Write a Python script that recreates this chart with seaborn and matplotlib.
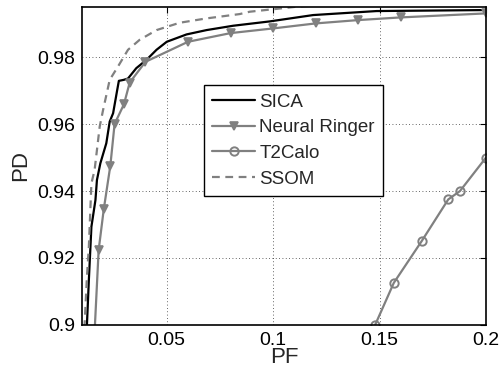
import matplotlib
matplotlib.use("Agg")
import matplotlib.pyplot as plt
import seaborn as sns
import pandas as pd

sica_pf = [0.0120, 0.0125, 0.0134, 0.0146, 0.0165, 0.0172, 0.0188, 0.0216, 0.0232, 0.0248,
           0.0266, 0.0275, 0.0298, 0.0318, 0.0357, 0.0405, 0.0452, 0.0500, 0.0593, 0.0687,
           0.0812, 0.0984, 0.1188, 0.1486, 0.2000]
sica_pd = [0.8950, 0.9000, 0.9133, 0.9293, 0.9373, 0.9433, 0.9483, 0.9543, 0.9608, 0.9633,
           0.9698, 0.9730, 0.9733, 0.9737, 0.9768, 0.9793, 0.9823, 0.9847, 0.9869, 0.9882,
           0.9895, 0.9908, 0.9927, 0.9939, 0.9942]

nr_pf = [0.0155, 0.0180, 0.0204, 0.0235, 0.0255, 0.0299, 0.0326, 0.0400, 0.0600, 0.0800,
         0.1000, 0.1200, 0.1400, 0.1600, 0.2000]
nr_pd = [0.8900, 0.9223, 0.9345, 0.9476, 0.9601, 0.9660, 0.9725, 0.9787, 0.9847, 0.9873,
         0.9887, 0.9902, 0.9912, 0.9920, 0.9932]

t2_pf = [0.1480, 0.1567, 0.1698, 0.1823, 0.1878, 0.2000]
t2_pd = [0.9000, 0.9125, 0.9250, 0.9375, 0.9400, 0.9500]

ssom_pf = [0.0110, 0.0114, 0.0125, 0.0134, 0.0146, 0.0161, 0.0185, 0.0201, 0.0232, 0.0271,
           0.0318, 0.0373, 0.0452, 0.0561, 0.0687, 0.0843, 0.0890, 0.1125, 0.1500, 0.2000]
ssom_pd = [0.8950, 0.9000, 0.9143, 0.9233, 0.9423, 0.9463, 0.9593, 0.9643, 0.9733, 0.9773,
           0.9823, 0.9853, 0.9882, 0.9904, 0.9917, 0.9930, 0.9937, 0.9953, 0.9965, 0.9975]

x_ticks = [0.05, 0.1, 0.15, 0.2]
x_ticklabels = ["0.05", "0.1", "0.15", "0.2"]
y_ticks = [0.9, 0.92, 0.94, 0.96, 0.98]
y_ticklabels = ["0.9", "0.92", "0.94", "0.96", "0.98"]

sns.set_style("white")
plt.rcParams['font.family'] = ['Liberation Sans', 'DejaVu Sans']

fig = plt.figure(figsize=(5.02, 3.71), dpi=100)
ax = fig.add_axes([0.163, 0.125, 0.805, 0.856])

gray = "#808080"

sns.lineplot(data=pd.DataFrame({"PF": sica_pf, "PD": sica_pd}), x="PF", y="PD", sort=False,
             estimator=None, ax=ax, color="black", linewidth=1.6, label="SICA")
sns.lineplot(data=pd.DataFrame({"PF": nr_pf, "PD": nr_pd}), x="PF", y="PD", sort=False,
             estimator=None, ax=ax, color=gray, linewidth=1.6, marker="v", markersize=6,
             markerfacecolor=gray, markeredgecolor=gray, markeredgewidth=1.2, label="Neural Ringer")
sns.lineplot(data=pd.DataFrame({"PF": t2_pf, "PD": t2_pd}), x="PF", y="PD", sort=False,
             estimator=None, ax=ax, color=gray, linewidth=1.6, marker="o", markersize=6,
             markerfacecolor="none", markeredgecolor=gray, markeredgewidth=1.4, label="T2Calo")
sns.lineplot(data=pd.DataFrame({"PF": ssom_pf, "PD": ssom_pd}), x="PF", y="PD", sort=False,
             estimator=None, ax=ax, color=gray, linewidth=1.6, linestyle=(0, (3.5, 2.5)),
             label="SSOM")

ax.set_xlim(0.0101, 0.2)
ax.set_ylim(0.9, 0.9951)
ax.set_xticks(x_ticks)
ax.set_xticklabels(x_ticklabels)
ax.set_yticks(y_ticks)
ax.set_yticklabels(y_ticklabels)
ax.tick_params(direction="in", length=4, width=0.8, top=True, right=True,
               labelsize=14, colors="black", pad=5)
ax.grid(True, linestyle=(0, (1, 3)), color="black", linewidth=0.6, alpha=0.8)
for s in ax.spines.values():
    s.set_color("black")
    s.set_linewidth(1.2)
ax.set_xlabel("PF", fontsize=16, labelpad=-1)
ax.set_ylabel("PD", fontsize=16, labelpad=4)

leg = ax.legend(loc="lower left", bbox_to_anchor=(0.302, 0.405), fontsize=13.5,
                frameon=True, fancybox=False, framealpha=1, edgecolor="black",
                borderpad=0.45, labelspacing=0.45, handlelength=2.3, handletextpad=0.2,
                borderaxespad=0)
leg.get_frame().set_linewidth(1.0)

fig.savefig("out.png", dpi=100)
